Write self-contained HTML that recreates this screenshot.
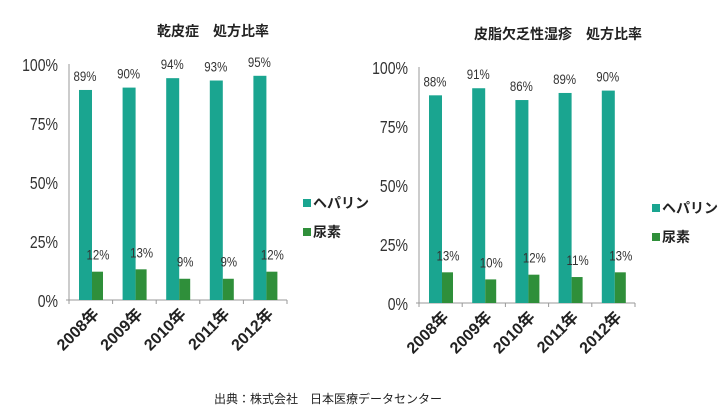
<!DOCTYPE html>
<html><head><meta charset="utf-8"><style>
body{margin:0;background:#fff;}
svg{display:block;font-family:"Liberation Sans","Noto Sans CJK JP",sans-serif;}
</style></head><body>
<svg id="c" width="718" height="416"></svg>
<script>
const categories=["2008年","2009年","2010年","2011年","2012年"];
const heparinLeft=[89,90,94,93,95];
const ureaLeft=[12,13,9,9,12];
const heparinRight=[88,91,86,89,90];
const ureaRight=[13,10,12,11,13];
const yTicks=[0,25,50,75,100];
const titles=["乾皮症　処方比率","皮脂欠乏性湿疹　処方比率"];
const NS="http://www.w3.org/2000/svg";
const svg=document.getElementById('c');
function mk(tag,attrs,parent,text){const e=document.createElementNS(NS,tag);for(const k in attrs)e.setAttribute(k,attrs[k]);if(text!==undefined)e.textContent=text;parent.appendChild(e);return e;}
function drawChart(idx,x0,y0,y100,xEnd,heps,ureas,legX,legY,titleX){
  const g=mk('g',{},svg);
  
  
  const y=v=>y0-(y0-y100)*v/100;
  const bw=(xEnd-x0)/categories.length;
  const t=mk('text',{x:titleX,y:y100-28,'font-size':14,'font-weight':'bold','text-anchor':'middle',fill:'#222'},g,titles[idx]);
  
  
  const ax=mk('line',{x1:x0,y1:y100,x2:x0,y2:y0,stroke:'#999'},g);
  
  
  const xa=mk('line',{x1:x0-3,y1:y0,x2:xEnd,y2:y0,stroke:'#999'},g);
  
  
  yTicks.forEach(v=>{
    const tl=mk('text',{x:x0-11,y:y(v)+7,'font-size':18,'text-anchor':'end',fill:'#333',transform:`scale(0.78,1)`,'transform-origin':`${x0-11} ${y(v)}`},g,v+'%');
    
    
  });
  for(let i=0;i<=categories.length;i++){mk('line',{x1:x0+bw*i,y1:y0,x2:x0+bw*i,y2:y0+4,stroke:'#999'},g);}
  categories.forEach((c,i)=>{
    const cx=x0+bw*i;
    const hx=cx+10, ux=hx+13;
    const hb=mk('rect',{x:hx,y:y(heps[i]),width:13,height:y0-y(heps[i]),fill:'#1aa590'},g);
    
    
    const ub=mk('rect',{x:ux,y:y(ureas[i]),width:11,height:y0-y(ureas[i]),fill:'#2f8f3a'},g);
    
    
    const hl=mk('text',{x:hx+6,y:y(heps[i])-9,'font-size':14,'text-anchor':'middle',fill:'#333',transform:'scale(0.82,1)','transform-origin':`${hx+6} 0`},g,heps[i]+'%');
    
    
    const ul=mk('text',{x:ux+6,y:y(ureas[i])-12,'font-size':14,'text-anchor':'middle',fill:'#333',transform:'scale(0.82,1)','transform-origin':`${ux+6} 0`},g,ureas[i]+'%');
    
    
    const xl=mk('text',{x:cx+bw/2+9,y:y0+15,'font-size':16,'font-weight':'bold','text-anchor':'end',fill:'#222',transform:`rotate(-45 ${cx+bw/2+9} ${y0+15})`},g,c);
    
    
  });
  const lg=mk('g',{},g);
  
  
  mk('rect',{x:legX,y:legY-7,width:8,height:8,fill:'#1aa590'},lg);
  const l1=mk('text',{x:legX+10,y:legY+2,'font-size':14,'font-weight':'bold',fill:'#222'},lg,'ヘパリン');
  
  
  mk('rect',{x:legX,y:legY+22,width:8,height:8,fill:'#2f8f3a'},lg);
  const l2=mk('text',{x:legX+10,y:legY+31,'font-size':14,'font-weight':'bold',fill:'#222'},lg,'尿素');
  
  
}
drawChart(0,69,300,64,287,heparinLeft,ureaLeft,303,206,213);
drawChart(1,419,303,67,635,heparinRight,ureaRight,652,211,558);
const src=mk('text',{x:328,y:403,'font-size':12,'text-anchor':'middle',fill:'#222'},svg,'出典：株式会社　日本医療データセンター');


</script>
</body></html>
